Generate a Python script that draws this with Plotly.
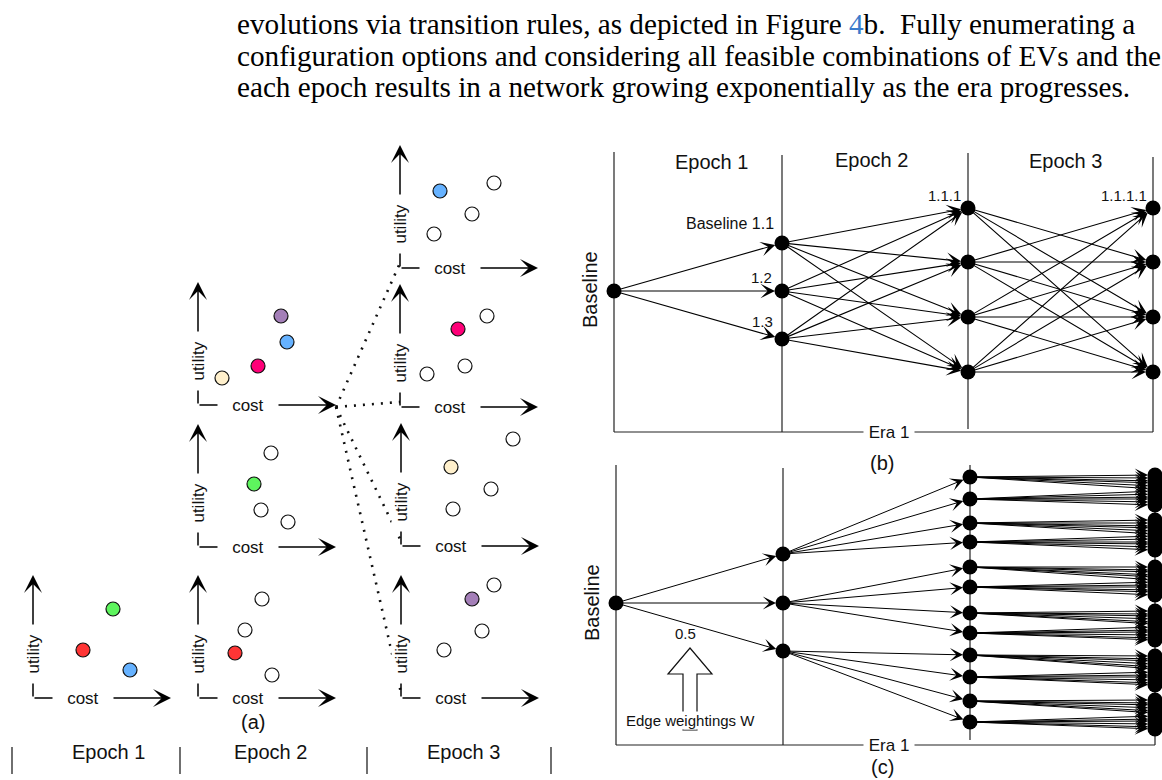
import plotly.graph_objects as go

W, H = 1162, 780

# ---------------- data ----------------
para_lines = [
    'evolutions via transition rules, as depicted in Figure <span style="color:#3b7bcc">4</span>b.  Fully enumerating a',
    'configuration options and considering all feasible combinations of EVs and the',
    'each epoch results in a network growing exponentially as the era progresses.',
]

ev_colors = {"green": "#5ef55e", "red": "#ff3535", "blue": "#66b2ff", "purple": "#a47fb8",
             "magenta": "#ff0078", "cream": "#fff0cc", "none": "#ffffff"}

# panel (a): tradespace scatter per epoch (cost, utility in local units)
a_epoch = ["Epoch 1", "Epoch 2", "Epoch 2", "Epoch 2", "Epoch 3", "Epoch 3", "Epoch 3", "Epoch 3"]
a_cost = [[80, 50, 97],
          [83, 89, 60, 24], [73, 56, 63, 90], [64, 47, 37, 74],
          [40, 94, 72, 34], [87, 58, 65, 27], [112, 50, 90, 52], [93, 71, 81, 43]]
a_utility = [[89, 48, 28],
             [89, 63, 39, 27], [94, 63, 37, 25], [99, 68, 45, 23],
             [77, 85, 54, 34], [91, 78, 41, 33], [107, 79, 57, 37], [113, 99, 67, 48]]
a_color = [["green", "red", "blue"],
           ["purple", "blue", "magenta", "cream"], ["none", "green", "none", "none"],
           ["none", "none", "red", "none"],
           ["blue", "none", "none", "none"], ["none", "magenta", "none", "none"],
           ["none", "cream", "none", "none"], ["none", "purple", "none", "none"]]
a_epoch_labels = ["Epoch 1", "Epoch 2", "Epoch 3"]

# panel (b): network levels (node rows per epoch)
b_level_names = ["Baseline", "Epoch 1", "Epoch 2", "Epoch 3"]
b_levels = [[291], [243, 291, 339], [208, 262, 317, 372], [208, 262, 317, 372]]
b_node_labels = {(1, 0): "Baseline 1.1", (1, 1): "1.2", (1, 2): "1.3", (2, 0): "1.1.1", (3, 0): "1.1.1.1"}

# panel (c): expanded network
c_levels = [[603], [554, 603, 651],
            [477, 499, 523, 542, 567, 587, 613, 633, 655, 677, 701, 722],
            [475, 478, 481, 483, 486, 489, 491, 494, 497, 499, 502, 505,
             520, 523, 526, 528, 531, 534, 536, 539, 542, 544, 547, 550,
             567, 570, 572, 575, 577, 580, 582, 585, 587, 590, 592, 595,
             611, 614, 616, 619, 622, 624, 627, 630, 632, 635, 638, 640,
             656, 659, 661, 664, 667, 669, 672, 675, 677, 680, 683, 685,
             700, 703, 705, 708, 711, 713, 716, 719, 721, 724, 727, 729]]
c_weight_label = "0.5"

# ---------------- layout positions ----------------
a_corner = [(33, 698), (198, 405), (198, 547), (198, 698), (400, 268), (400, 407), (401, 546), (401, 698)]
a_hub = (336, 407)
b_cols = [614, 782, 968, 1153]
c_cols = [616, 783, 970, 1155]

shapes, annotations, traces = [], [], []
SANS = "Liberation Sans"


def line(x0, y0, x1, y1, width=1.2, color="#222", dash=None, layer="below"):
    d = dict(type="line", x0=x0, y0=y0, x1=x1, y1=y1, xref="x", yref="y",
             line=dict(color=color, width=width), layer=layer)
    if dash:
        d["line"]["dash"] = dash
    shapes.append(d)


def arrow(x0, y0, x1, y1, standoff=0, width=1.1, size=1.5, head=3):
    annotations.append(dict(x=x1, y=y1, ax=x0, ay=y0, xref="x", yref="y", axref="x", ayref="y",
                            text="", showarrow=True, arrowhead=head, arrowsize=size,
                            arrowwidth=width, arrowcolor="black", standoff=standoff))


text_annots = []


def label(x, y, text, size=16, angle=0, bg=None, xanchor="center", family=SANS, color="#111"):
    d = dict(x=x, y=y, xref="x", yref="y", text=text, showarrow=False, textangle=angle,
             font=dict(family=family, size=size, color=color), xanchor=xanchor, yanchor="middle",
             borderpad=0)
    if bg:
        d["bgcolor"] = bg
    text_annots.append(d)


# ---------------- paragraph ----------------
for i, t in enumerate(para_lines):
    label(236, 24 + 31.5 * i, t, size=29.2, xanchor="left", family="Liberation Serif", color="#000")

# ---------------- panel (a) ----------------
nb = "\u00a0"
for k, (cx, cy) in enumerate(a_corner):
    arrow(cx, cy, cx, cy - 123, width=1.5, size=2.0)
    arrow(cx, cy, cx + 138, cy, width=1.5, size=2.0)
    label(cx, cy - 44, nb * 2 + "utility" + nb * 2, size=17, angle=-90, bg="white")
    label(cx + 50, cy, nb * 3 + "cost" + nb * 3, size=17, bg="white")
    traces.append(go.Scatter(
        x=[cx + c for c in a_cost[k]], y=[cy - u for u in a_utility[k]], mode="markers",
        marker=dict(size=14, color=[ev_colors[c] for c in a_color[k]], line=dict(color="#111", width=1.2)),
        hoverinfo="skip", showlegend=False))

for k in range(4, 8):
    cx, cy = a_corner[k]
    line(a_hub[0], a_hub[1], cx, cy - 5, width=2.6, color="#111", dash="2px,7px", layer="above")

label(253, 722, "(a)", size=20)
a_lab_x = [108, 270, 463]
for t, x in zip(a_epoch_labels, a_lab_x):
    label(x, 752, t, size=20)
for x in [12, 180, 367, 551]:
    line(x, 747, x, 774, width=1.3, color="#222")

# ---------------- panel (b) ----------------
line(b_cols[0], 152, b_cols[0], 432)
line(b_cols[1], 155, b_cols[1], 432)
line(b_cols[2], 153, b_cols[2], 429)
line(b_cols[3], 157, b_cols[3], 432)
line(b_cols[0], 432, b_cols[3], 432)
label(889, 432, nb + "Era 1" + nb, size=17, bg="white")
label(711, 162, "Epoch 1", size=20)
label(871, 160, "Epoch 2", size=20)
label(1065, 161, "Epoch 3", size=20)
label(590, 290, "Baseline", size=20, angle=-90)
label(882, 463, "(b)", size=20)

b_edges = []
for j in range(3):
    b_edges.append(((0, 0), (1, j)))
for i in range(3):
    for j in range(4):
        b_edges.append(((1, i), (2, j)))
for i in range(4):
    for j in range(4):
        if not (i == 0 and j == 0):
            b_edges.append(((2, i), (3, j)))
for (l0, i0), (l1, i1) in b_edges:
    arrow(b_cols[l0], b_levels[l0][i0], b_cols[l1], b_levels[l1][i1], standoff=7, width=1.1, size=2.2)

bx, by = [], []
for l, ys in enumerate(b_levels):
    bx += [b_cols[l]] * len(ys)
    by += ys
traces.append(go.Scatter(x=bx, y=by, mode="markers", marker=dict(size=15, color="black"),
                         hoverinfo="skip", showlegend=False))
b_lab_pos = {(1, 0): (775, 223, "right", 16), (1, 1): (773, 277, "right", 15),
             (1, 2): (774, 321, "right", 15), (2, 0): (962, 195, "right", 15),
             (3, 0): (1148, 195, "right", 15)}
for key, t in b_node_labels.items():
    x, y, xa, fs = b_lab_pos[key]
    label(x, y, t, size=fs, xanchor=xa)

# ---------------- panel (c) ----------------
line(c_cols[0], 465, c_cols[0], 745)
line(c_cols[1], 468, c_cols[1], 745)
line(c_cols[2], 465, c_cols[2], 740)
line(c_cols[3], 470, c_cols[3], 745)
line(c_cols[0], 745, c_cols[3], 745)
label(889, 745, nb + "Era 1" + nb, size=17, bg="white")
label(592, 603, "Baseline", size=20, angle=-90)
label(882, 767, "(c)", size=20)

c_edges = []
for j in range(3):
    c_edges.append(((0, 0), (1, j)))
for i in range(3):
    for j in range(4):
        c_edges.append(((1, i), (2, 4 * i + j)))
for i in range(12):
    for j in range(6):
        c_edges.append(((2, i), (3, 6 * i + j)))
for (l0, i0), (l1, i1) in c_edges:
    arrow(c_cols[l0], c_levels[l0][i0], c_cols[l1], c_levels[l1][i1], standoff=7, width=1.0, size=2.2)

cx_, cy_ = [], []
for l, ys in enumerate(c_levels):
    cx_ += [c_cols[l]] * len(ys)
    cy_ += ys
traces.append(go.Scatter(x=cx_, y=cy_, mode="markers", marker=dict(size=15, color="black"),
                         hoverinfo="skip", showlegend=False))

# hollow "edge weightings" arrow
hollow = [(683, 730), (683, 674), (668, 674), (690, 648), (712, 674), (697, 674), (697, 730)]
path = "M " + " L ".join(f"{x},{y}" for x, y in hollow) + " Z"
shapes.append(dict(type="path", path=path, xref="x", yref="y", line=dict(color="#111", width=1.2),
                   fillcolor="white", layer="above"))
label(685, 633, c_weight_label, size=15)
label(690, 720, "Edge weightings W", size=15, bg="white")

fig = go.Figure(traces)
fig.update_layout(
    width=W, height=H, autosize=False,
    margin=dict(l=0, r=0, t=0, b=0),
    paper_bgcolor="white", plot_bgcolor="white",
    xaxis=dict(range=[0, W], visible=False, fixedrange=True),
    yaxis=dict(range=[H, 0], visible=False, fixedrange=True),
    shapes=shapes,
    annotations=annotations + text_annots,
    showlegend=False,
)
fig.write_html("out.html", config={"displayModeBar": False},
               post_script="document.body.style.margin='0';")
